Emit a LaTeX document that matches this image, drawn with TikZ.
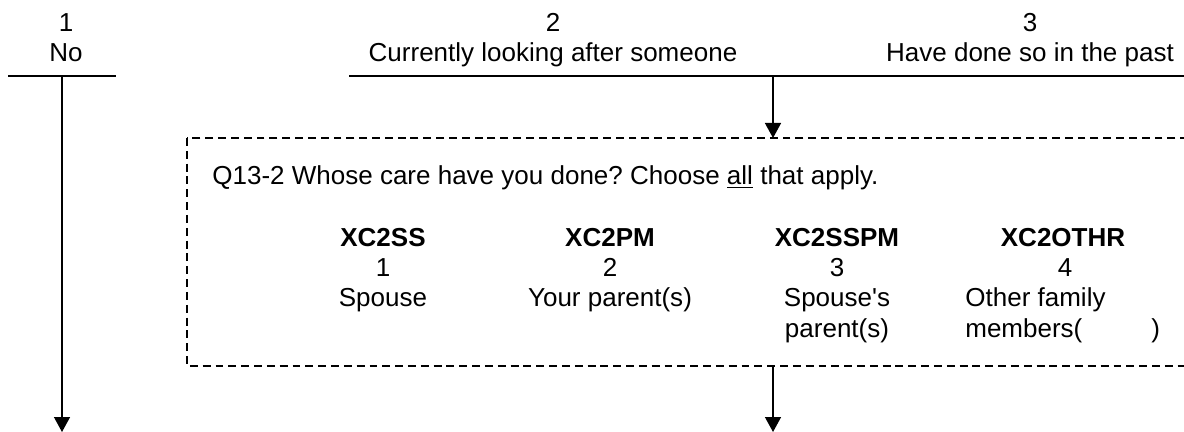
\documentclass[tikz,border=0pt]{standalone}
\usepackage{fontspec}
\setmainfont{Liberation Sans}
\usetikzlibrary{arrows.meta}
\tikzstyle{none}=[]
\tikzstyle{txt}=[font=\fontsize{14.8pt}{17pt}\selectfont\frenchspacing,inner sep=0pt,anchor=base]
\tikzstyle{txtb}=[txt,font=\fontsize{14.8pt}{17pt}\selectfont\bfseries]
\tikzstyle{ln}=[line width=0.8 pt]
\tikzstyle{arr}=[line width=0.8 pt,-{Triangle[width=0.32cm,length=0.3cm]}]
\tikzstyle{dashbox}=[line width=0.8 pt,dash pattern=on 4.5pt off 2.8pt]

\begin{document}
\begin{tikzpicture}
            \clip (0, 0) rectangle (23.68, -8.64);
            \node [style=txt] (1) at (1.32, -0.64) {1};
            \node [style=txt] (2) at (1.32, -1.24) {No};
            \node [style=txt] (3) at (11.06, -0.64) {2};
            \node [style=txt] (4) at (11.06, -1.24) {Currently looking after someone};
            \node [style=txt] (5) at (20.6, -0.64) {3};
            \node [style=txt] (6) at (20.6, -1.24) {Have done so in the past};
            \node [style=none] (7) at (0.16, -1.52) {};
            \node [style=none] (8) at (2.32, -1.52) {};
            \node [style=none] (9) at (1.24, -1.52) {};
            \node [style=none] (10) at (1.24, -8.64) {};
            \node [style=none] (11) at (6.98, -1.52) {};
            \node [style=none] (12) at (24.2, -1.52) {};
            \node [style=none] (13) at (15.46, -1.52) {};
            \node [style=none] (14) at (15.46, -2.76) {};
            \node [style=none] (15) at (3.74, -2.76) {};
            \node [style=none] (16) at (24.2, -7.32) {};
            \node [style=none] (17) at (15.46, -7.32) {};
            \node [style=none] (18) at (15.46, -8.64) {};
            \node [style=txt, anchor=base west] (19) at (4.24, -3.7) {Q13-2 Whose care have you done? Choose \underline{all} that apply.};
            \node [style=txtb] (20) at (7.66, -4.94) {XC2SS};
            \node [style=txt] (21) at (7.66, -5.54) {1};
            \node [style=txt] (22) at (7.66, -6.14) {Spouse};
            \node [style=txtb] (23) at (12.2, -4.94) {XC2PM};
            \node [style=txt] (24) at (12.2, -5.54) {2};
            \node [style=txt] (25) at (12.2, -6.14) {Your parent(s)};
            \node [style=txtb] (26) at (16.74, -4.94) {XC2SSPM};
            \node [style=txt] (27) at (16.74, -5.54) {3};
            \node [style=txt] (28) at (16.74, -6.14) {Spouse\textquotesingle s};
            \node [style=txt] (29) at (16.74, -6.74) {parent(s)};
            \node [style=txtb] (30) at (21.26, -4.94) {XC2OTHR};
            \node [style=txt] (31) at (21.3, -5.54) {4};
            \node [style=txt, anchor=base west] (32) at (19.3, -6.14) {Other family};
            \node [style=txt, anchor=base west] (33) at (19.3, -6.74) {members(\hspace{1.38cm})};
            \draw [style=ln] (7.center) to (8.center);
            \draw [style=arr] (9.center) to (10.center);
            \draw [style=ln] (11.center) to (12.center);
            \draw [style=arr] (13.center) to (14.center);
            \draw [style=dashbox] (15.center) rectangle (16.center);
            \draw [style=arr] (17.center) to (18.center);
\end{tikzpicture}
\end{document}
